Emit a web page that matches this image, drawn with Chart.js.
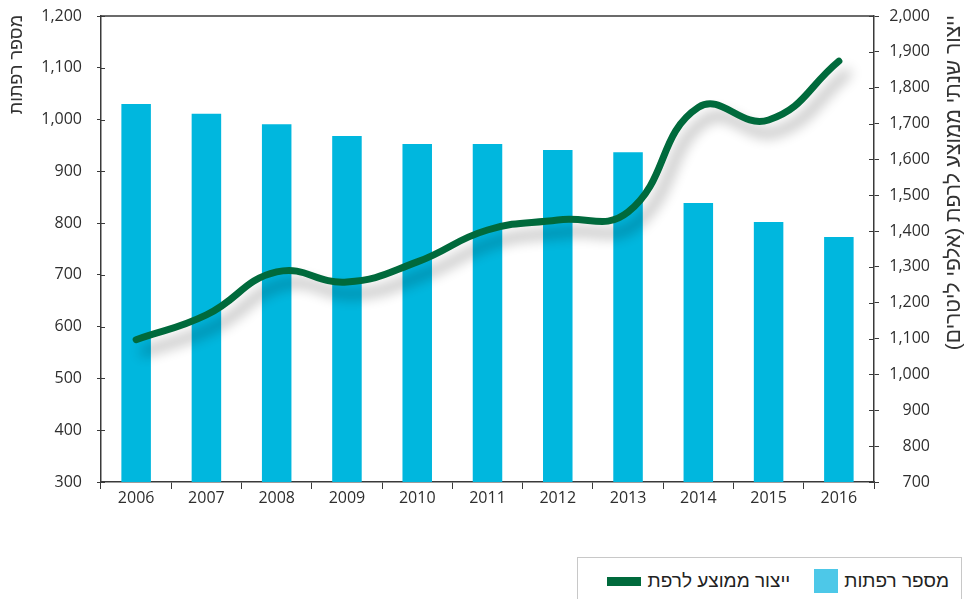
<!DOCTYPE html>
<html lang="he">
<head>
<meta charset="utf-8">
<script src="https://cdn.jsdelivr.net/npm/chart.js@4"></script>
<style>
  html, body { margin: 0; padding: 0; background: #fff; overflow: hidden; }
  #wrap { position: relative; width: 967px; height: 599px; }
  #legend {
    position: absolute; left: 577px; top: 557px; width: 385px; height: 48px;
    border: 1px solid #c8c8c8; background: #fff; box-sizing: border-box;
    direction: rtl; display: flex; align-items: center; padding-right: 12px;
    font: 19px "Liberation Sans", sans-serif; color: #222;
  }
  .item { display: flex; align-items: center; margin-left: 24px; }
  .swatch-bar { width: 24px; height: 24px; background: #4dc8e8; margin-right: 6px; }
  .swatch-line { width: 34px; height: 9px; background: #006a3c; margin-right: 7px; }
</style>
</head>
<body>
<div id="wrap">
  <canvas id="dairyChart" width="967" height="599"></canvas>
  <div id="legend">
    <div class="item"><span>מספר רפתות</span><span class="swatch-bar"></span></div>
    <div class="item"><span>ייצור ממוצע לרפת</span><span class="swatch-line"></span></div>
  </div>
</div>
<script>
// data
const years = ['2006', '2007', '2008', '2009', '2010', '2011', '2012', '2013', '2014', '2015', '2016'];
const farmCount = [1030, 1011, 991, 968, 953, 953, 941, 937, 839, 802, 773];
const avgYield = [1097, 1166, 1286, 1258, 1314, 1403, 1431, 1453, 1745, 1710, 1874];
const leftTitle = 'מספר רפתות';
const rightTitle = 'ייצור שנתי ממוצע לרפת (אלפי ליטרים)';

const axisColor = '#3a3a3a';
const tickFont = { family: '"Open Sans", sans-serif', size: 16 };

// draw the line dataset with a soft drop shadow
const lineShadow = {
    id: 'lineShadow',
    beforeDatasetDraw(chart, args) {
        if (args.meta.type !== 'line') return;
        const ctx = chart.ctx;
        ctx.save();
        ctx.shadowColor = 'rgba(0,0,0,0.33)';
        ctx.shadowBlur = 13;
        ctx.shadowOffsetX = 8;
        ctx.shadowOffsetY = 12;
    },
    afterDatasetDraw(chart, args) {
        if (args.meta.type !== 'line') return;
        chart.ctx.restore();
    }
};

// top border, inner half of the ticks and the rotated axis titles
const extras = {
    id: 'extras',
    afterDraw(chart) {
        const { ctx, chartArea: a, scales } = chart;
        ctx.save();
        ctx.strokeStyle = axisColor;
        ctx.lineWidth = 1.5;
        ctx.beginPath();
        ctx.moveTo(a.left, a.top);
        ctx.lineTo(a.right, a.top);
        ctx.stroke();

        ctx.lineWidth = 1;
        ctx.beginPath();
        scales.y.ticks.forEach(t => {
            const py = Math.round(scales.y.getPixelForValue(t.value)) + 0.5;
            ctx.moveTo(a.left, py);
            ctx.lineTo(a.left + 4, py);
        });
        scales.y1.ticks.forEach(t => {
            const py = Math.round(scales.y1.getPixelForValue(t.value)) + 0.5;
            ctx.moveTo(a.right - 5, py);
            ctx.lineTo(a.right, py);
        });
        ctx.stroke();

        ctx.fillStyle = '#333';
        ctx.textAlign = 'right';
        ctx.textBaseline = 'middle';
        [[17, leftTitle, 18], [954, rightTitle, 21]].forEach(([x, txt, size]) => {
            ctx.save();
            ctx.font = size + 'px "Liberation Sans", sans-serif';
            ctx.translate(x, 15);
            ctx.rotate(-Math.PI / 2);
            ctx.fillText(txt, 0, 0);
            ctx.restore();
        });
        ctx.restore();
    }
};

// keep the plot area edge at the outer tick values
function noEndPadding(scale) {
    scale.paddingTop = 0;
    scale.paddingBottom = 0;
}

const ctx = document.getElementById('dairyChart').getContext('2d');
const dairyChart = new Chart(ctx, {
    type: 'bar',
    data: {
        labels: years,
        datasets: [{
            type: 'line',
            label: 'ייצור ממוצע לרפת',
            data: avgYield,
            yAxisID: 'y1',
            borderColor: '#006a3c',
            borderWidth: 7,
            borderCapStyle: 'round',
            tension: 0.45,
            pointRadius: 0,
            fill: false,
            order: 0
        }, {
            type: 'bar',
            label: 'מספר רפתות',
            data: farmCount,
            yAxisID: 'y',
            backgroundColor: '#00b7de',
            barPercentage: 0.42,
            categoryPercentage: 1,
            order: 1
        }]
    },
    options: {
        responsive: false,
        animation: false,
        layout: { padding: { top: 16, left: 0, right: 37, bottom: 87 } },
        plugins: {
            legend: { display: false },
            tooltip: { enabled: false }
        },
        scales: {
            x: {
                grid: { drawOnChartArea: false, offset: true, tickLength: 7, color: axisColor },
                border: { color: axisColor, width: 1.5 },
                ticks: { color: '#2e2e2e', font: tickFont, padding: 0 },
                afterFit(scale) { scale.height = 30; }
            },
            y: {
                position: 'left',
                min: 300, max: 1200,
                grid: { drawOnChartArea: false, tickLength: 4, color: axisColor },
                border: { color: axisColor, width: 1.5 },
                ticks: { stepSize: 100, color: '#2e2e2e', font: tickFont, padding: 15 },
                afterFit(scale) { scale.width = 101; noEndPadding(scale); }
            },
            y1: {
                position: 'right',
                min: 700, max: 2000,
                grid: { drawOnChartArea: false, tickLength: 5, color: axisColor },
                border: { color: axisColor, width: 1.5 },
                ticks: { stepSize: 100, color: '#2e2e2e', font: tickFont, padding: 9, crossAlign: 'far' },
                afterFit(scale) { scale.width = 56; noEndPadding(scale); }
            }
        }
    },
    plugins: [lineShadow, extras]
});
</script>
</body>
</html>
